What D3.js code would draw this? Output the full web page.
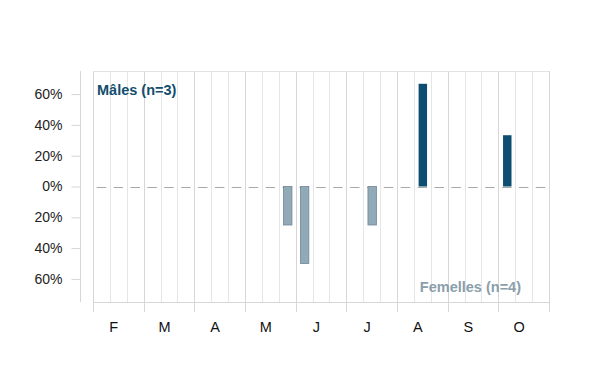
<!DOCTYPE html>
<html>
<head>
<meta charset="utf-8">
<title>Mâles / Femelles par décade</title>
<script src="https://cdn.jsdelivr.net/npm/d3@7"></script>
<style type="text/css">
    body{ margin:0; background:#fff; }
    svg text{ font-family: "Liberation Sans", Arial, sans-serif; }
</style>
</head>
<body>
<svg id="chart" width="600" height="390"></svg>
<script type="text/javascript">

var months   = ['F', 'M', 'A', 'M', 'J', 'J', 'A', 'S', 'O'];
var decades  = [1, 2, 3];
var yTicks   = [-60, -40, -20, 0, 20, 40, 60];

// share of individuals per decade (month index, decade, %)
var males   = [{m: 6, d: 2, v: 66.7}, {m: 8, d: 1, v: 33.3}];
var females = [{m: 3, d: 3, v: 25}, {m: 4, d: 1, v: 50}, {m: 5, d: 2, v: 25}];

var maleLabel   = 'Mâles (n=3)',
    femaleLabel = 'Femelles (n=4)';

// plot frame (window.top is reserved, hence the names)
var pLeft = 93, pRight = 549, pTop = 71, pBottom = 302;

var svg = d3.select('#chart');

// one slot per decade
var slots = [];
months.forEach(function(m, i){
    decades.forEach(function(d){ slots.push(i + '-' + d) })
});

var x = d3.scaleBand().domain(slots).range([pLeft, pRight]).padding(0);
var xm = d3.scaleBand().domain(d3.range(months.length)).range([pLeft, pRight]);
var y = d3.scaleLinear().domain([-75, 75]).range([pBottom, pTop]);
var bw = x.bandwidth();

// decade gridlines
svg.append('g').selectAll('line')
    .data(slots.slice(1))
    .enter().append('line')
    .attr('x1', function(s){ return Math.round(x(s)) + 0.5 })
    .attr('x2', function(s){ return Math.round(x(s)) + 0.5 })
    .attr('y1', pTop).attr('y2', pBottom)
    .attr('stroke', '#e6e6e6');

// month boundaries, with ticks below the frame
svg.append('g').selectAll('line')
    .data(d3.range(months.length + 1))
    .enter().append('line')
    .attr('x1', function(i){ return Math.round(pLeft + i * xm.bandwidth()) + 0.5 })
    .attr('x2', function(i){ return Math.round(pLeft + i * xm.bandwidth()) + 0.5 })
    .attr('y1', pTop).attr('y2', pBottom + 10)
    .attr('stroke', '#d6d6d6');

// frame top and bottom
svg.append('line').attr('x1', pLeft).attr('x2', pRight)
    .attr('y1', pTop + 0.5).attr('y2', pTop + 0.5).attr('stroke', '#e2e2e2');
svg.append('line').attr('x1', pLeft).attr('x2', pRight)
    .attr('y1', pBottom + 0.5).attr('y2', pBottom + 0.5).attr('stroke', '#d6d6d6');

// y axis
var yAxis = d3.axisLeft(y)
    .tickValues(yTicks)
    .tickSize(9)
    .tickPadding(9)
    .tickFormat(function(d){ return Math.abs(d) + '%' });

var ga = svg.append('g')
    .attr('transform', 'translate(80.5,0)')
    .call(yAxis);
ga.select('.domain').attr('stroke', '#d6d6d6').attr('d', 'M0,' + pTop + 'V' + pBottom);
ga.selectAll('.tick line').attr('stroke', '#d6d6d6');
ga.selectAll('.tick text')
    .attr('fill', '#222')
    .style('font-size', '14px');

// zero line, one dash per decade
svg.append('g').selectAll('line')
    .data(slots)
    .enter().append('line')
    .attr('x1', function(s){ return x(s) + bw * 0.22 })
    .attr('x2', function(s){ return x(s) + bw * 0.78 })
    .attr('y1', Math.round(y(0)) + 0.5).attr('y2', Math.round(y(0)) + 0.5)
    .attr('stroke', '#a8a8a8');

function key(d){ return d.m + '-' + d.d }

// female bars (downwards)
svg.append('g').selectAll('rect')
    .data(females)
    .enter().append('rect')
    .attr('x', function(d){ return x(key(d)) + bw * 0.25 + 0.5 })
    .attr('width', bw * 0.5)
    .attr('y', y(0))
    .attr('height', function(d){ return y(-d.v) - y(0) })
    .attr('fill', '#92a9b8')
    .attr('stroke', '#6f8796')
    .attr('stroke-width', 0.8);

// male bars (upwards)
svg.append('g').selectAll('rect')
    .data(males)
    .enter().append('rect')
    .attr('x', function(d){ return x(key(d)) + bw * 0.25 + 0.5 })
    .attr('width', bw * 0.5)
    .attr('y', function(d){ return y(d.v) })
    .attr('height', function(d){ return y(0) - y(d.v) })
    .attr('fill', '#0c4d70');

// month labels
svg.append('g').selectAll('text')
    .data(months)
    .enter().append('text')
    .attr('x', function(m, i){ return xm(i) + xm.bandwidth() * 0.41 })
    .attr('y', 332)
    .attr('text-anchor', 'middle')
    .attr('fill', '#111')
    .style('font-size', '14.5px')
    .text(function(m){ return m });

svg.append('text')
    .attr('x', 97).attr('y', 95)
    .attr('fill', '#124d6e')
    .style('font-size', '14.5px')
    .style('font-weight', 'bold')
    .text(maleLabel);

svg.append('text')
    .attr('x', 521).attr('y', 292)
    .attr('text-anchor', 'end')
    .attr('fill', '#8a9eab')
    .style('font-size', '14.5px')
    .style('font-weight', 'bold')
    .text(femaleLabel);

</script>
</body>
</html>
